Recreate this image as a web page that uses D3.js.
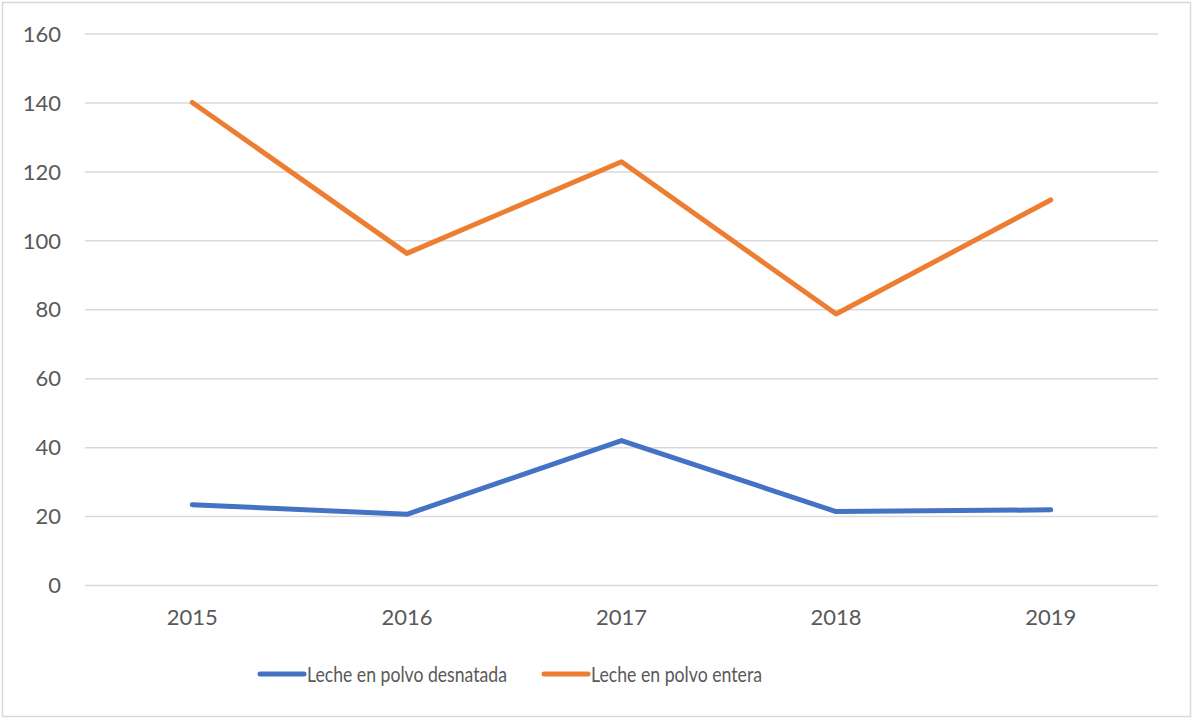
<!DOCTYPE html>
<html>
<head>
<meta charset="utf-8">
<script src="https://cdn.jsdelivr.net/npm/d3@7"></script>
<style>
  body { margin: 0; background: #fff; }
  svg text { font-family: Lato, "Open Sans", sans-serif; fill: #595959; }
</style>
</head>
<body>
<div id="chart"></div>
<script>
// data
var years = ["2015", "2016", "2017", "2018", "2019"];
var desnatada = [23.3, 20.5, 41.9, 21.3, 21.8];
var entera = [140, 96.2, 122.8, 78.6, 111.7];
var seriesNames = ["Leche en polvo desnatada", "Leche en polvo entera"];
var seriesColors = ["#4472C4", "#ED7D31"];
var yTicks = [0, 20, 40, 60, 80, 100, 120, 140, 160];

var width = 1194, height = 719;
var margin = {top: 33.5, right: 36, bottom: 134, left: 85};
var plotW = width - margin.left - margin.right,
    plotH = height - margin.top - margin.bottom;

var svg = d3.select("#chart").append("svg")
    .attr("width", width)
    .attr("height", height);

// chart border
svg.append("rect")
    .attr("x", 2.5).attr("y", 2.5)
    .attr("width", 1188).attr("height", 714)
    .attr("fill", "none")
    .attr("stroke", "#d9d9d9")
    .attr("stroke-width", 1.5);

var g = svg.append("g")
    .attr("transform", "translate(" + margin.left + "," + margin.top + ")");

var xScale = d3.scaleBand().domain(years).range([0, plotW]);
var yScale = d3.scaleLinear().domain([0, 160]).range([plotH, 0]);

// gridlines
var yAxis = d3.axisLeft(yScale)
    .tickValues(yTicks)
    .tickSize(-plotW)
    .tickPadding(24);
var yg = g.append("g").call(yAxis);
yg.select(".domain").remove();
yg.selectAll(".tick line").attr("stroke", "#d9d9d9").attr("stroke-width", 1.5);
yg.selectAll(".tick text").style("font-size", "22px").attr("dy", "0.35em");

var xAxis = d3.axisBottom(xScale).tickSize(0).tickPadding(24);
var xg = g.append("g")
    .attr("transform", "translate(0," + plotH + ")")
    .call(xAxis);
xg.select(".domain").remove();
xg.selectAll(".tick text").style("font-size", "22px");

// lines
var line = d3.line()
    .x(function(d, i) { return xScale(years[i]) + xScale.bandwidth() / 2; })
    .y(function(d) { return yScale(d); });

[desnatada, entera].forEach(function(vals, k) {
    g.append("path")
        .datum(vals)
        .attr("d", line)
        .attr("fill", "none")
        .attr("stroke", seriesColors[k])
        .attr("stroke-width", 5)
        .attr("stroke-linejoin", "round")
        .attr("stroke-linecap", "round");
});

// legend (Calibri-like narrow text, squeezed to the original widths)
var legendX = [260, 544];
var legendTextW = [200, 171];
var legend = svg.append("g").attr("transform", "translate(0,674)");
seriesNames.forEach(function(name, k) {
    legend.append("line")
        .attr("x1", legendX[k]).attr("x2", legendX[k] + 44)
        .attr("y1", 0).attr("y2", 0)
        .attr("stroke", seriesColors[k])
        .attr("stroke-width", 5)
        .attr("stroke-linecap", "round");
    legend.append("text")
        .attr("x", legendX[k] + 47)
        .attr("y", 0)
        .attr("dy", "0.35em")
        .attr("textLength", legendTextW[k])
        .attr("lengthAdjust", "spacingAndGlyphs")
        .style("font-size", "22px")
        .text(name);
});
</script>
</body>
</html>
